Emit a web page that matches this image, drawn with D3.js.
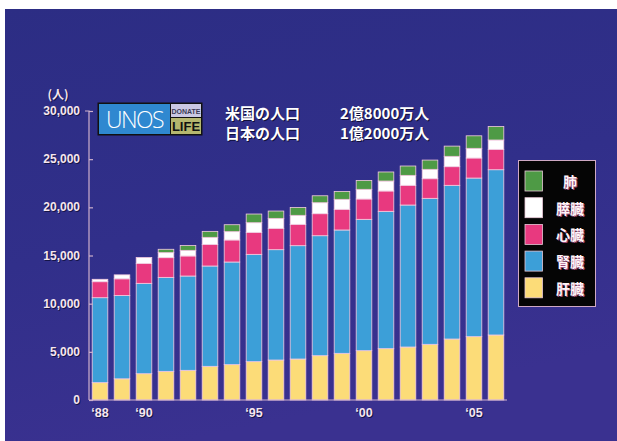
<!DOCTYPE html>
<html>
<head>
<meta charset="utf-8">
<script src="https://cdn.jsdelivr.net/npm/d3@7"></script>
<style>
  html, body { margin: 0; padding: 0; background: #ffffff; }
  svg { display: block; }
</style>
</head>
<body>
<svg id="chart" width="617" height="441"></svg>
<script>
// Waiting list by organ, 1988–2006 (people)
const years    = [1988,1989,1990,1991,1992,1993,1994,1995,1996,1997,1998,1999,2000,2001,2002,2003,2004,2005,2006];
const liver    = [1800,2200,2730,2975,3080,3495,3670,3980,4150,4255,4600,4845,5120,5330,5500,5780,6330,6575,6750];
const kidney   = [8820,8650,9380,9755,9790,10415,10655,11140,11455,11765,12455,12805,13635,14255,14740,15155,15955,16465,17155];
const heart    = [1660,1730,2075,2045,2080,2245,2285,2285,2215,2215,2285,2145,2110,2110,2045,2035,1935,2080,2115];
const pancreas = [250,410,600,520,585,730,865,1000,1035,935,1140,1035,1005,1035,1035,975,1075,1005,970];
const lung     = [0,0,0,350,500,620,720,900,760,820,720,820,920,940,970,960,1060,1300,1400];

const tickYears  = [1988,1990,1995,2000,2005];
const yTicks     = [0,5000,10000,15000,20000,25000,30000];
const unitLabel  = "(人)";
const noteLines  = [["米国の人口","2億8000万人"],["日本の人口","1億2000万人"]];

const seriesKeys   = ["liver","kidney","heart","pancreas","lung"];
const seriesNames  = {liver:"肝臓", kidney:"腎臓", heart:"心臓", pancreas:"膵臓", lung:"肺"};
const seriesColors = {liver:"#fcdc78", kidney:"#3c9fd8", heart:"#e8397f", pancreas:"#ffffff", lung:"#4e9a45"};
const seriesData   = {liver, kidney, heart, pancreas, lung};

const rows = years.map((y, i) => {
  const r = {year: y};
  seriesKeys.forEach(k => r[k] = seriesData[k][i]);
  return r;
});

const svg = d3.select("#chart");
const W = 617, H = 441;

// backdrop
const defs = svg.append("defs");
const grad = defs.append("linearGradient").attr("id","bg").attr("x1",0).attr("y1",0).attr("x2",0.3).attr("y2",1);
grad.append("stop").attr("offset","0%").attr("stop-color","#2c2d84");
grad.append("stop").attr("offset","55%").attr("stop-color","#312f8a");
grad.append("stop").attr("offset","100%").attr("stop-color","#3a3190");
svg.append("rect").attr("x",5).attr("y",9).attr("width",W-5).attr("height",H-9).attr("fill","url(#bg)");

const x = d3.scaleBand().domain(years).range([89, 507]).paddingInner(0.29).paddingOuter(0.145);
const y = d3.scaleLinear().domain([0, 30000]).range([400, 111]);

const stacked = d3.stack().keys(seriesKeys)(rows);

// bars
svg.append("g").selectAll("g").data(stacked).join("g")
  .attr("fill", d => seriesColors[d.key])
  .selectAll("rect").data(d => d.filter(s => s[1] > s[0])).join("rect")
  .attr("x", d => x(d.data.year))
  .attr("width", x.bandwidth())
  .attr("y", d => y(d[1]))
  .attr("height", d => y(d[0]) - y(d[1]))
  .attr("stroke", "#f3cbe0")
  .attr("stroke-width", 0.8);

const axisColor = "#cdb0cc";
const labelFont = "'Liberation Sans', Arial, sans-serif";

// y axis with inward ticks
const yAxis = svg.append("g").attr("transform","translate(89,0)")
  .call(d3.axisLeft(y).tickValues(yTicks).tickSize(-4).tickFormat(d3.format(",")).tickPadding(10));
yAxis.select(".domain").attr("stroke", axisColor).attr("stroke-width",1.2).attr("d","M-4,111H0V400");
yAxis.selectAll(".tick line").attr("stroke", axisColor).attr("stroke-width",1.2);
yAxis.selectAll(".tick text").remove();

// baseline
svg.append("line").attr("x1",89).attr("x2",507).attr("y1",400).attr("y2",400)
  .attr("stroke", axisColor).attr("stroke-width",1.2);

function shadowText(g, xPos, yPos, str, opts) {
  const o = Object.assign({size:12, weight:"bold", anchor:"end", fill:"#f6e6ee", family:labelFont, shadow:"#141447"}, opts);
  g.append("text").attr("x", xPos+1).attr("y", yPos+1).text(str)
    .attr("font-size", o.size).attr("font-weight", o.weight).attr("font-family", o.family)
    .attr("text-anchor", o.anchor).attr("dominant-baseline","central").attr("fill", o.shadow);
  g.append("text").attr("x", xPos).attr("y", yPos).text(str)
    .attr("font-size", o.size).attr("font-weight", o.weight).attr("font-family", o.family)
    .attr("text-anchor", o.anchor).attr("dominant-baseline","central").attr("fill", o.fill);
}

const labels = svg.append("g");
yTicks.forEach(t => shadowText(labels, 80, y(t), d3.format(",")(t), {}));
tickYears.forEach(t => shadowText(labels, x(t) + x.bandwidth()/2, 413, "‘" + String(t).slice(2), {anchor:"middle", size:12.5}));
shadowText(labels, 58, 93, unitLabel, {anchor:"middle", size:12, family:"'Noto Sans CJK JP', sans-serif"});

// population notes
const jp = "'Noto Sans CJK JP', sans-serif";
noteLines.forEach((ln, i) => {
  shadowText(labels, 225, 112 + i*20, ln[0], {anchor:"start", size:15, family:jp, fill:"#ffffff", shadow:"#10103a"});
  shadowText(labels, 340, 112 + i*20, ln[1], {anchor:"start", size:15, family:jp, fill:"#ffffff", shadow:"#10103a"});
});

// UNOS / Donate Life badge
const logo = svg.append("g");
logo.append("rect").attr("x",97.5).attr("y",102.5).attr("width",105).attr("height",33).attr("fill","#111111");
logo.append("rect").attr("x",99).attr("y",104).attr("width",71).attr("height",30).attr("fill","#2f88d0");
logo.append("text").attr("x",134.5).attr("y",127.5).text("UNOS")
  .attr("font-family","'Open Sans', 'Noto Sans', sans-serif").attr("font-weight",300).attr("font-size",23)
  .attr("letter-spacing",-1.6).attr("text-anchor","middle").attr("fill","#ffffff");
logo.append("rect").attr("x",171).attr("y",104).attr("width",30).attr("height",13).attr("fill","#cac8e2");
logo.append("text").attr("x",186).attr("y",111).text("DONATE")
  .attr("font-family",labelFont).attr("font-weight","bold").attr("font-size",7)
  .attr("text-anchor","middle").attr("dominant-baseline","central").attr("fill","#3a3a55");
logo.append("rect").attr("x",171).attr("y",118).attr("width",30).attr("height",16).attr("fill","#b5b66e");
logo.append("text").attr("x",186).attr("y",126.5).text("LIFE")
  .attr("font-family",labelFont).attr("font-weight","bold").attr("font-size",13)
  .attr("text-anchor","middle").attr("dominant-baseline","central").attr("fill","#111111");

// legend
const legend = svg.append("g");
legend.append("rect").attr("x",518.5).attr("y",160.5).attr("width",77).attr("height",146)
  .attr("fill","#050505").attr("stroke","#cfa9c4").attr("stroke-width",1);
const legendOrder = ["lung","pancreas","heart","kidney","liver"];
legendOrder.forEach((k, i) => {
  const cy = 181 + i*26.7;
  legend.append("rect").attr("x",525).attr("y",cy-10).attr("width",17.5).attr("height",20)
    .attr("fill", seriesColors[k]).attr("stroke","#e8c8d8").attr("stroke-width",0.8);
  shadowText(legend, 570, cy, seriesNames[k], {anchor:"middle", size:14, family:jp, fill:"#fff4f8", shadow:"#9a4a78"});
});
</script>
</body>
</html>
